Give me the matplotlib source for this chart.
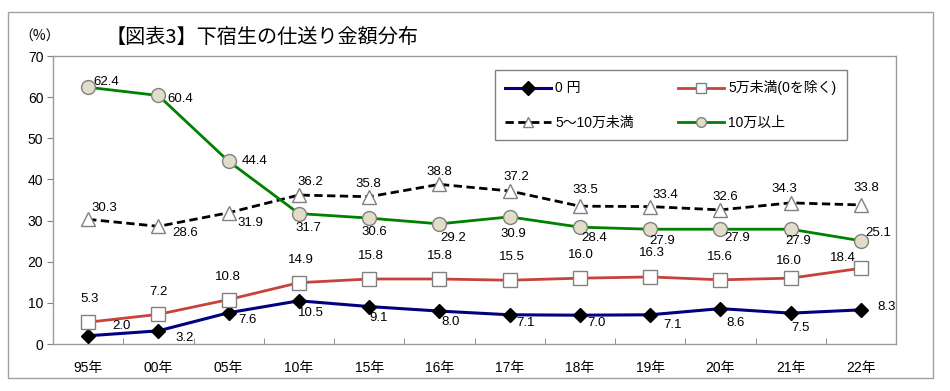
import matplotlib.pyplot as plt
from matplotlib.patches import Rectangle

plt.rcParams['font.family'] = ['Liberation Sans', 'Noto Sans CJK JP', 'DejaVu Sans']

years = ["95年", "00年", "05年", "10年", "15年", "16年", "17年", "18年", "19年", "20年", "21年", "22年"]
zero_yen = [2.0, 3.2, 7.6, 10.5, 9.1, 8.0, 7.1, 7.0, 7.1, 8.6, 7.5, 8.3]
under_5 = [5.3, 7.2, 10.8, 14.9, 15.8, 15.8, 15.5, 16.0, 16.3, 15.6, 16.0, 18.4]
from_5_to_10 = [30.3, 28.6, 31.9, 36.2, 35.8, 38.8, 37.2, 33.5, 33.4, 32.6, 34.3, 33.8]
over_10 = [62.4, 60.4, 44.4, 31.7, 30.6, 29.2, 30.9, 28.4, 27.9, 27.9, 27.9, 25.1]

# label offsets in pixels (dx, dy up) for each point
off_zero = [(33, 10), (26, -7), (19, -7), (12, -12), (10, -11), (11, -11),
            (16, -8), (17, -8), (22, -10), (15, -14), (10, -15), (26, 3)]
off_under5 = [(1, 23), (0, 22), (-1, 23), (2, 23), (2, 23), (1, 23),
              (2, 23), (1, 23), (2, 24), (0, 23), (-2, 17), (-18, 10)]
off_5to10 = [(16, 11), (27, -7), (22, -10), (11, 13), (-1, 13), (0, 12),
             (7, 14), (5, 16), (15, 12), (5, 13), (-6, 14), (5, 17)]
off_over10 = [(18, 5), (22, -4), (26, 0), (10, -14), (5, -14), (14, -14),
              (4, -17), (14, -11), (12, -12), (17, -9), (8, -12), (17, 8)]

fig = plt.figure(figsize=(9.5, 3.91), dpi=100)
ax = fig.add_axes([53 / 950, 1 - 344 / 391, (896 - 53) / 950, (344 - 56) / 391])

x = list(range(len(years)))
l1, = ax.plot(x, zero_yen, color="#000080", lw=2.2, marker="D", ms=7,
              mfc="black", mec="black", label="0 円", zorder=3)
l2, = ax.plot(x, under_5, color="#c8423c", lw=2.0, marker="s", ms=10,
              mfc="white", mec="#808080", mew=1, label="5万未満(0を除く)", zorder=3)
l3, = ax.plot(x, from_5_to_10, color="black", lw=2.0, ls=(0, (3, 1.6)), marker="^", ms=10,
              mfc="white", mec="#808080", mew=1, label="5～10万未満", zorder=3)
l4, = ax.plot(x, over_10, color="#008000", lw=2.0, marker="o", ms=10,
              mfc="#e2ddc8", mec="#808080", mew=1, label="10万以上", zorder=3)

for vals, offs in [(zero_yen, off_zero), (under_5, off_under5),
                   (from_5_to_10, off_5to10), (over_10, off_over10)]:
    for i, (v, o) in enumerate(zip(vals, offs)):
        ax.annotate(f"{v:.1f}", (i, v), xytext=o, textcoords="offset pixels",
                    ha="center", va="center", fontsize=9.5, zorder=4)

ax.set_xlim(-0.5, len(years) - 0.5)
ax.set_ylim(0, 70)
ax.set_yticks(range(0, 71, 10))
ax.set_xticks(x)
ax.set_xticklabels(years, fontsize=10)
ax.tick_params(axis="x", length=0, pad=12)
ax.set_xticks([i + 0.5 for i in x[:-1]], minor=True)
ax.tick_params(axis="x", which="minor", direction="in", length=4, color="#808080")
ax.tick_params(axis="y", length=4, color="#808080", labelsize=10, pad=3)
for s in ax.spines.values():
    s.set_color("#9a9a9a")
    s.set_linewidth(1)

leg = fig.legend(handles=[l1, l3, l2, l4], ncol=2, loc="upper left",
                 bbox_to_anchor=(495 / 950, 1 - 70 / 391), fontsize=10,
                 handlelength=3.3, columnspacing=3.2, labelspacing=1.45,
                 borderpad=0.75, handletextpad=0.3, borderaxespad=0,
                 fancybox=False, framealpha=1)
leg.get_frame().set_edgecolor("#808080")
leg.get_frame().set_linewidth(1)
for h in leg.legend_handles:
    h.set_markersize(7)

fig.text(262 / 950, 1 - 37 / 391, "【図表3】下宿生の仕送り金額分布", ha="center",
         va="center", fontsize=14.5, family=['Noto Sans CJK JP'])
fig.text(40 / 950, 1 - 37 / 391, "（%）", ha="center", va="center", fontsize=10,
         family=['Noto Sans CJK JP'])

fig.patches.append(Rectangle((8 / 950, 1 - 378 / 391), (933 - 8) / 950, (378 - 12) / 391,
                             transform=fig.transFigure, fill=False, ec="#a0a0a0", lw=1))

fig.savefig("out.png", dpi=100)
